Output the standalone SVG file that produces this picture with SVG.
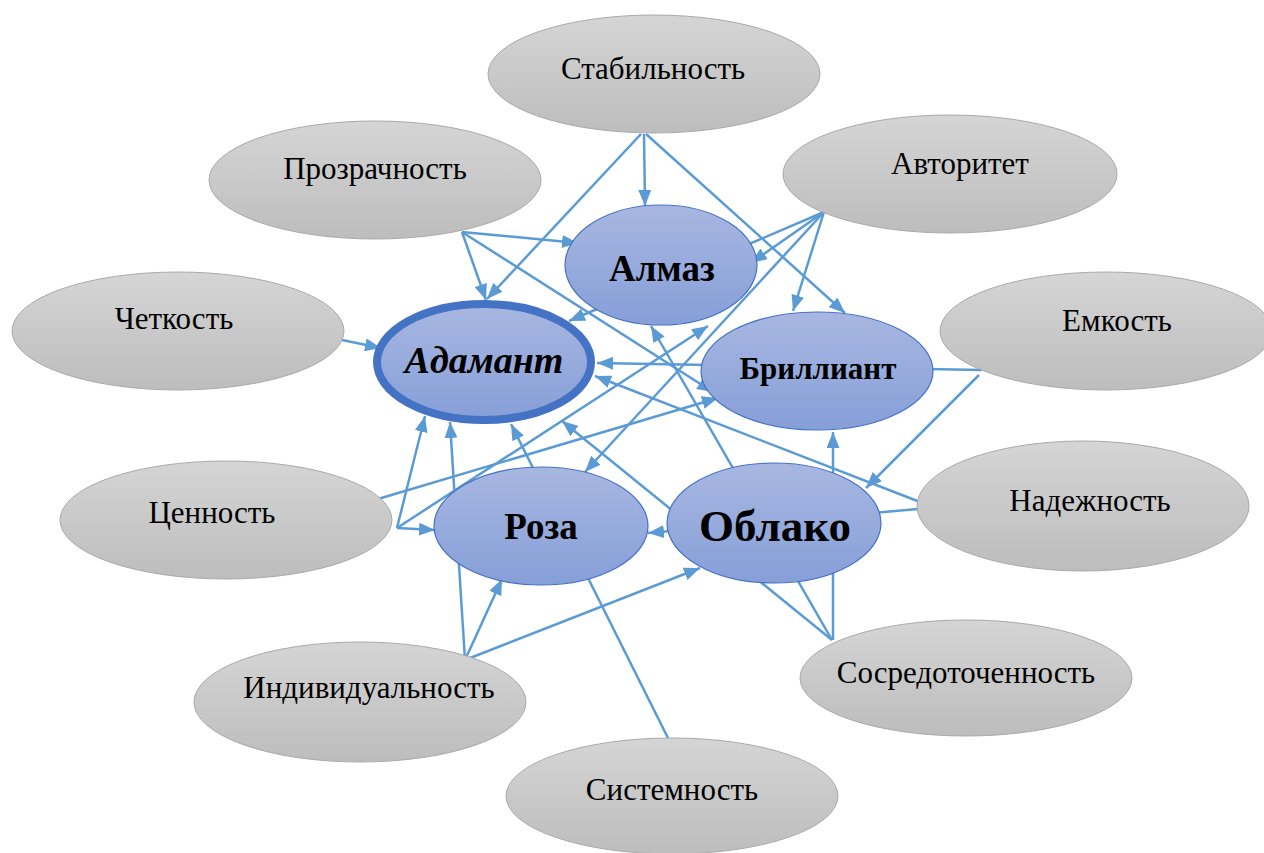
<svg xmlns="http://www.w3.org/2000/svg" width="1264" height="853" viewBox="0 0 1264 853">
<style>
.c{stroke:#5b9bd5;stroke-width:2.5;fill:none;marker-end:url(#ah)}
.g{fill:url(#gg);stroke:#a9a9a9;stroke-width:1}
.b{fill:url(#bg);stroke:#4472c4;stroke-width:1.2}
.gt{font-size:31px;fill:#000;text-anchor:middle;dominant-baseline:central}
.bt{font-weight:bold;fill:#000;text-anchor:middle;dominant-baseline:central}
</style>
<defs>
<linearGradient id="gg" x1="0" y1="0" x2="0" y2="1"><stop offset="0" stop-color="#d5d5d5"/><stop offset="1" stop-color="#bdbdbd"/></linearGradient>
<linearGradient id="bg" x1="0" y1="0" x2="0" y2="1"><stop offset="0" stop-color="#a8b7e1"/><stop offset="1" stop-color="#869fd8"/></linearGradient>
<marker id="ah" markerUnits="userSpaceOnUse" markerWidth="16" markerHeight="13" refX="16" refY="6.5" orient="auto"><path d="M0,0 L16,6.5 L0,13 z" fill="#5b9bd5"/></marker>
</defs>
<rect width="1264" height="853" fill="#fff"/>
<g id="connectors">
<line class="c" x1="641" y1="134" x2="487" y2="299"/>
<line class="c" x1="644" y1="134" x2="645" y2="206"/>
<line class="c" x1="646" y1="134" x2="845" y2="313"/>
<line class="c" x1="462" y1="232" x2="578" y2="243"/>
<line class="c" x1="462" y1="232" x2="486" y2="300"/>
<line class="c" x1="462" y1="232" x2="713" y2="392"/>
<line class="c" x1="824" y1="212" x2="751" y2="263"/>
<line class="c" x1="824" y1="212" x2="569" y2="321"/>
<line class="c" x1="824" y1="212" x2="793" y2="311"/>
<line class="c" x1="824" y1="212" x2="585" y2="472"/>
<line class="c" x1="342" y1="340" x2="381" y2="348"/>
<line class="c" x1="982" y1="370" x2="597" y2="363"/>
<line class="c" x1="979" y1="375" x2="866" y2="488"/>
<line class="c" x1="378" y1="499" x2="718" y2="398"/>
<line class="c" x1="397" y1="528" x2="708" y2="326"/>
<line class="c" x1="397" y1="528" x2="425" y2="416"/>
<line class="c" x1="397" y1="528" x2="435" y2="530"/>
<line class="c" x1="920" y1="502" x2="595" y2="376"/>
<line class="c" x1="918" y1="509" x2="648" y2="533"/>
<line class="c" x1="465" y1="660" x2="502" y2="579"/>
<line class="c" x1="465" y1="660" x2="700" y2="568"/>
<line class="c" x1="465" y1="660" x2="450" y2="422"/>
<line class="c" x1="668" y1="738" x2="511" y2="424"/>
<line class="c" x1="832" y1="640" x2="562" y2="421"/>
<line class="c" x1="832" y1="640" x2="651" y2="326"/>
<line class="c" x1="833" y1="640" x2="833" y2="432"/>
</g>
<g font-family="'Liberation Serif', 'DejaVu Serif', serif">
<g id="stabilnost"><ellipse class="g" cx="654" cy="74" rx="166" ry="59"/><text class="gt" x="653" y="68">Стабильность</text></g>
<g id="prozrachnost"><ellipse class="g" cx="375" cy="180" rx="166" ry="59"/><text class="gt" x="375" y="168">Прозрачность</text></g>
<g id="avtoritet"><ellipse class="g" cx="950" cy="174" rx="167" ry="59"/><text class="gt" x="960" y="163">Авторитет</text></g>
<g id="chetkost"><ellipse class="g" cx="178" cy="331" rx="166" ry="59"/><text class="gt" x="174" y="318">Четкость</text></g>
<g id="emkost"><ellipse class="g" cx="1106" cy="331" rx="166" ry="59"/><text class="gt" x="1117" y="320">Емкость</text></g>
<g id="tsennost"><ellipse class="g" cx="226" cy="520" rx="166" ry="59"/><text class="gt" x="212" y="512">Ценность</text></g>
<g id="nadezhnost"><ellipse class="g" cx="1083" cy="506" rx="166" ry="65"/><text class="gt" x="1090" y="500">Надежность</text></g>
<g id="individualnost"><ellipse class="g" cx="360" cy="702" rx="166" ry="60"/><text class="gt" x="369" y="687">Индивидуальность</text></g>
<g id="sosredotochennost"><ellipse class="g" cx="966" cy="678" rx="166" ry="58"/><text class="gt" x="966" y="672">Сосредоточенность</text></g>
<g id="sistemnost"><ellipse class="g" cx="672" cy="796" rx="166" ry="58"/><text class="gt" x="672" y="789">Системность</text></g>
<g id="almaz"><ellipse class="b" cx="661" cy="265" rx="96" ry="60"/><text class="bt" x="662" y="268" font-size="37">Алмаз</text></g>
<g id="adamant"><ellipse cx="484" cy="362" rx="107" ry="58" fill="url(#bg)" stroke="#4472c4" stroke-width="8"/><text class="bt" x="484" y="360" font-size="38" font-style="italic">Адамант</text></g>
<g id="brilliant"><ellipse class="b" cx="817" cy="371" rx="116" ry="59"/><text class="bt" x="818" y="368" font-size="31">Бриллиант</text></g>
<g id="roza"><ellipse class="b" cx="541" cy="526" rx="107" ry="59"/><text class="bt" x="541" y="526" font-size="37">Роза</text></g>
<g id="oblako"><ellipse class="b" cx="774" cy="523" rx="107" ry="60"/><text class="bt" x="775" y="526" font-size="45">Облако</text></g>
</g>
</svg>
